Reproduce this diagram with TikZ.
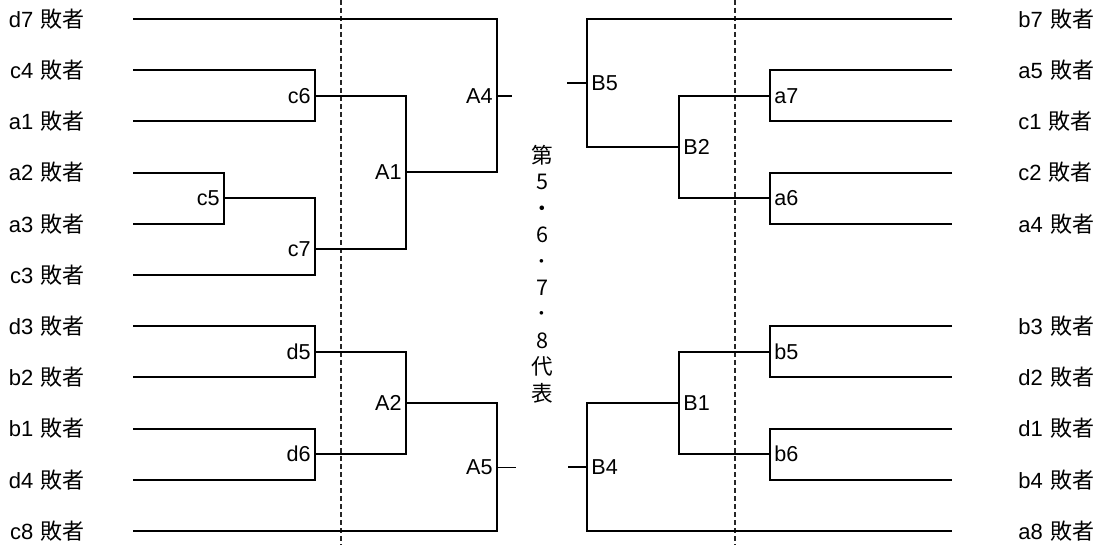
\documentclass[tikz,border=0pt]{standalone}
\usepackage{fontspec}
\setmainfont{Liberation Sans}
\newfontfamily\cjk{Noto Sans CJK JP}
\begin{document}
\begin{tikzpicture}[x=0.5pt,y=-0.5pt,
  lab/.style={inner sep=0pt,font=\fontsize{11pt}{13pt}\selectfont},
  ml/.style={inner sep=2pt,font=\fontsize{10.8pt}{13pt}\selectfont},
  br/.style={line width=1.05pt},
  thin/.style={line width=0.5pt},
  guide/.style={line width=0.6pt,draw=black!85,dash pattern=on 2.5pt off 1.5pt}]
\useasboundingbox (0,0) rectangle (1104,545);
% guide lines
\coordinate (g1t) at (341,0); \coordinate (g1b) at (341,545);
\coordinate (g2t) at (735,0); \coordinate (g2b) at (735,545);
\draw[guide] (g1t) -- (g1b);
\draw[guide] (g2t) -- (g2b);
% left entrants
\foreach \i/\t in {1/d7,2/c4,3/a1,4/a2,5/a3,6/c3,7/d3,8/b2,9/b1,10/d4,11/c8}{
  \pgfmathsetmacro\yy{19+51.2*(\i-1)}
  \node[lab,anchor=east] (ll\i) at (85,\yy) {\t\hspace{0.33em}{\cjk 敗者}};
  \coordinate (L\i) at (133,\yy);
}
% right entrants
\foreach \i/\t in {1/b7,2/a5,3/c1,4/c2,5/a4,7/b3,8/d2,9/d1,10/b4,11/a8}{
  \pgfmathsetmacro\yy{19+51.2*(\i-1)}
  \node[lab,anchor=west] (rl\i) at (1018,\yy) {\t\hspace{0.33em}{\cjk 敗者}};
  \coordinate (R\i) at (952,\yy);
}
% left matches
\coordinate (c6) at (315,95.8);
\coordinate (c5) at (224,198.2);
\coordinate (c7) at (315,249);
\coordinate (A1) at (406,172.4);
\coordinate (A4) at (497,95.8);
\coordinate (A4t) at (512,95.8);
\coordinate (d5) at (315,351.8);
\coordinate (d6) at (315,454.2);
\coordinate (A2) at (406,403);
\coordinate (A5) at (497,467);
\coordinate (A5t) at (516,467);
% right matches
\coordinate (a7) at (770,95.8);
\coordinate (a6) at (770,198.2);
\coordinate (B2) at (679,147);
\coordinate (B5) at (587,83.4);
\coordinate (B5t) at (567,83.4);
\coordinate (b5) at (770,351.8);
\coordinate (b6) at (770,454.2);
\coordinate (B1) at (679,403);
\coordinate (B4) at (587,467);
\coordinate (B4t) at (568,467);
% left brackets
\draw[br] (L2) -| (c6) |- (L3);
\draw[br] (L4) -| (c5) |- (L5);
\draw[br] (c5) -| (c7) |- (L6);
\draw[br] (c6) -| (A1) |- (c7);
\draw[br] (L1) -| (A4) |- (A1);
\draw[br] (A4) -- (A4t);
\draw[br] (L7) -| (d5) |- (L8);
\draw[br] (L9) -| (d6) |- (L10);
\draw[br] (d5) -| (A2) |- (d6);
\draw[br] (A2) -| (A5) |- (L11);
\draw[thin] (A5) -- (A5t);
% right brackets
\draw[br] (R2) -| (a7) |- (R3);
\draw[br] (R4) -| (a6) |- (R5);
\draw[br] (a7) -| (B2) |- (a6);
\draw[br] (R1) -| (B5) |- (B2);
\draw[br] (B5t) -- (B5);
\draw[br] (R7) -| (b5) |- (R8);
\draw[br] (R9) -| (b6) |- (R10);
\draw[br] (b5) -| (B1) |- (b6);
\draw[br] (B1) -| (B4) |- (R11);
\draw[br] (B4t) -- (B4);
% match labels
\node[ml,anchor=east] (c6l) at (c6) {c6};
\node[ml,anchor=east] (c5l) at (c5) {c5};
\node[ml,anchor=east] (c7l) at (c7) {c7};
\node[ml,anchor=east] (A1l) at (A1) {A1};
\node[ml,anchor=east] (A4l) at (A4) {A4};
\node[ml,anchor=east] (d5l) at (d5) {d5};
\node[ml,anchor=east] (d6l) at (d6) {d6};
\node[ml,anchor=east] (A2l) at (A2) {A2};
\node[ml,anchor=east] (A5l) at (A5) {A5};
\node[ml,anchor=west] (a7l) at (a7) {a7};
\node[ml,anchor=west] (a6l) at (a6) {a6};
\node[ml,anchor=west] (B2l) at (B2) {B2};
\node[ml,anchor=west] (B5l) at (B5) {B5};
\node[ml,anchor=west] (b5l) at (b5) {b5};
\node[ml,anchor=west] (b6l) at (b6) {b6};
\node[ml,anchor=west] (B1l) at (B1) {B1};
\node[ml,anchor=west] (B4l) at (B4) {B4};
% centre text
\node[inner sep=0pt,align=center,font=\cjk\fontsize{10.8pt}{13.2pt}\selectfont] (ctr) at (542,274)
  {第\\5\\・\\6\\･\\7\\･\\8\\代\\表};
\end{tikzpicture}
\end{document}
